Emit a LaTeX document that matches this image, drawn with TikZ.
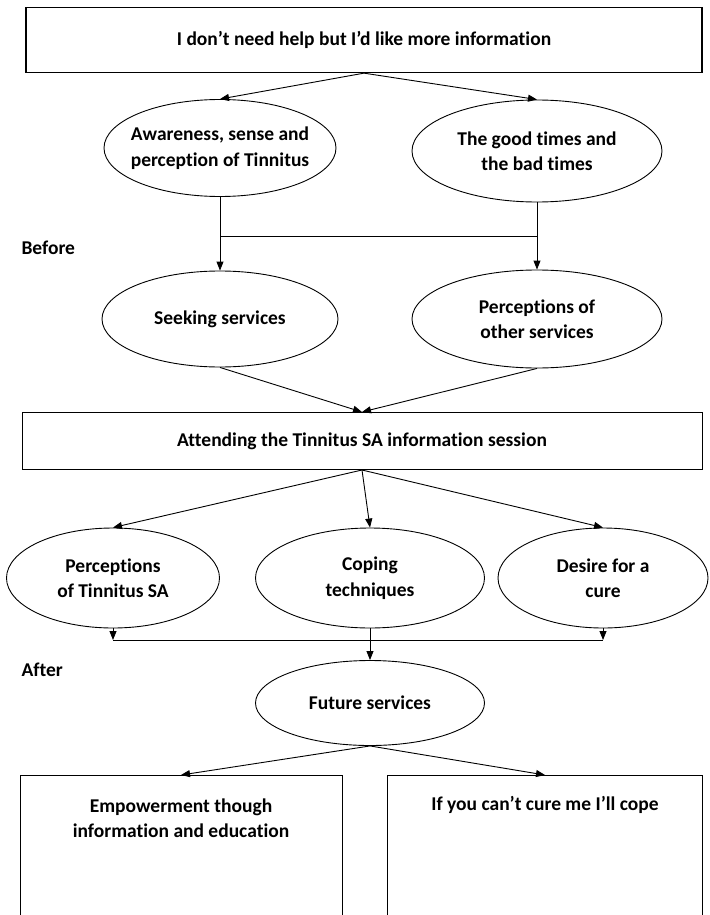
\documentclass[tikz,border=0pt]{standalone}
\usepackage{fontspec}
\setmainfont{Carlito}[Ligatures=NoCommon]
\usepackage{xcolor}
\usetikzlibrary{positioning,calc}
\usetikzlibrary{shapes.geometric,arrows.meta}

\begin{document}
\begin{tikzpicture}[x=1pt,y=-1pt,
        font=\fontsize{19.5}{25.5}\selectfont\bfseries,
        box/.style={draw,line width=1pt,rectangle,inner sep=0pt,align=center},
        oval/.style={draw,line width=0.9pt,ellipse,inner sep=0pt},
        arr/.style={line width=0.9pt,-{Triangle[length=9pt,width=7pt]}}]
        \useasboundingbox (0,0) rectangle (709,915);
        \clip (0,0) rectangle (709,915);

        % Boxes
        \node[box,line width=1.3pt,minimum width=676,minimum height=65] (help) at (364,40) {I don’t need help but I’d like more information};
        \node[box,minimum width=680,minimum height=57] (attend) at (362,441) {Attending the Tinnitus SA information session};
        \node[box,anchor=north,minimum width=322,minimum height=170] (empower) at (181,775) {};
        \node[box,anchor=north,minimum width=315,minimum height=170] (cope) at (545,775) {};
        \node[align=center] (empowertxt) at (181,818) {Empowerment though\\information and education};
        \node (copetxt) at (545,805) {If you can’t cure me I’ll cope};

        % Ellipses
        \node[oval,minimum width=232,minimum height=97] (aware) at (220,148) {};
        \node[oval,minimum width=250,minimum height=102] (times) at (537,151) {};
        \node[oval,minimum width=236,minimum height=96] (seek) at (220,319) {};
        \node[oval,minimum width=250,minimum height=98] (other) at (537,319) {};
        \node[oval,minimum width=213,minimum height=100] (tsa) at (113,578) {};
        \node[oval,minimum width=229,minimum height=100] (coping) at (370,578) {};
        \node[oval,minimum width=210,minimum height=100] (desire) at (603,578) {};
        \node[oval,minimum width=229,minimum height=85] (future) at (370,703) {};

        \node[align=center] (awaretxt) at (aware) {Awareness, sense and\\perception of Tinnitus};
        \node[align=center] (timestxt) at (times) {The good times and\\the bad times};
        \node (seektxt) at (seek) {Seeking services};
        \node[align=center] (othertxt) at (other) {Perceptions of\\other services};
        \node[align=center] (tsatxt) at (tsa) {Perceptions\\of Tinnitus SA};
        \node[align=center] (copingtxt) at (coping) {Coping\\techniques};
        \node[align=center] (desiretxt) at (desire) {Desire for a\\cure};
        \node (futuretxt) at (future) {Future services};

        % Labels
        \node[anchor=west] (before) at (18,248) {Before};
        \node[anchor=west] (after) at (18,670) {After};
        \coordinate (mid1) at (0,236);
        \coordinate (mid2) at (0,640);

        % Arrows
        \draw[arr] (help.south) -- (aware.north);
        \draw[arr] (help.south) -- (times.north);
        \draw[arr] (aware.south) -- (seek.north);
        \draw[arr] (times.south) -- (other.north);
        \draw[line width=0.9pt] (aware.south |- mid1) -- (times.south |- mid1);
        \draw[arr] (seek.south) -- (attend.north);
        \draw[arr] (other.south) -- (attend.north);
        \draw[arr] (attend.south) -- (tsa.north);
        \draw[arr] (attend.south) -- (coping.north);
        \draw[arr] (attend.south) -- (desire.north);
        \draw[arr] (tsa.south) -- (tsa.south |- mid2);
        \draw[arr] (desire.south) -- (desire.south |- mid2);
        \draw[line width=0.9pt] (tsa.south |- mid2) -- (desire.south |- mid2);
        \draw[arr] (coping.south) -- (future.north);
        \draw[arr] (future.south) -- (empower.north);
        \draw[arr] (future.south) -- (cope.north);
\end{tikzpicture}
\end{document}
